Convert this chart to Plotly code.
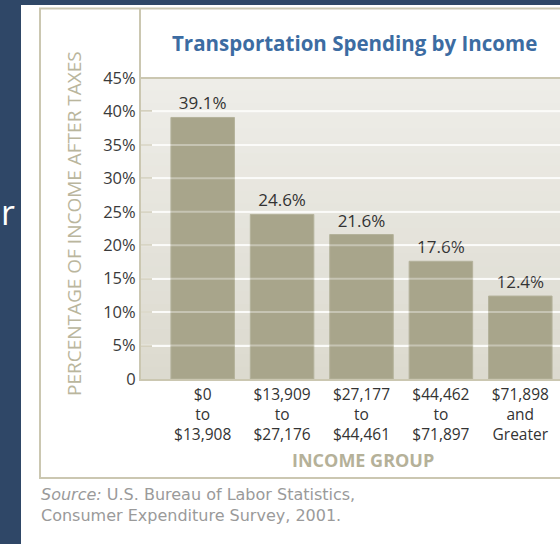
import plotly.graph_objects as go

# Data: share of after-tax income spent on transportation, by income group
income_groups = [
    "$0<br>to<br>$13,908",
    "$13,909<br>to<br>$27,176",
    "$27,177<br>to<br>$44,461",
    "$44,462<br>to<br>$71,897",
    "$71,898<br>and<br>Greater",
]
spending_pct = [39.1, 24.6, 21.6, 17.6, 12.4]
y_ticks = [0, 5, 10, 15, 20, 25, 30, 35, 40, 45]
y_tick_labels = ["0"] + [f"{v}%" for v in y_ticks[1:]]
source_lines = [
    "<i>Source:</i> U.S. Bureau of Labor Statistics,",
    "Consumer Expenditure Survey, 2001.",
]

W_PX, H_PX = 560, 544
L, R, T, B = 141, 560, 78, 379  # plot-area edges in pixels


def px(x):
    return (x - L) / (R - L)


def py(y):
    return (B - y) / (B - T)


FRAME = "#cbc7b1"
DARK = "#2f4767"

positions = list(range(len(income_groups)))

fig = go.Figure()
fig.add_trace(go.Bar(
    x=positions,
    y=spending_pct,
    width=0.8,
    marker=dict(color="#a8a58b", line=dict(color="#b4b29b", width=1)),
    text=[f"{v:.1f}%" for v in spending_pct],
    textposition="outside",
    textfont=dict(family="Open Sans", size=17, color="#333333"),
    cliponaxis=False,
    hoverinfo="skip",
))

shapes = []
# soft vertical gradient behind the bars
n_bands = 24
top_c = (238, 237, 232)
bot_c = (220, 218, 207)
for i in range(n_bands):
    f = i / (n_bands - 1)
    c = tuple(round(bot_c[k] + (top_c[k] - bot_c[k]) * f) for k in range(3))
    shapes.append(dict(type="rect", xref="paper", yref="paper",
                       x0=0, x1=1, y0=i / n_bands, y1=(i + 1) / n_bands + 0.002,
                       fillcolor=f"rgb{c}", line=dict(width=0), layer="below"))
# faint gridlines showing through the bars
for v in y_ticks[1:]:
    shapes.append(dict(type="line", xref="paper", yref="y", x0=0, x1=1, y0=v, y1=v,
                       line=dict(color="rgba(255,255,255,0.35)", width=2), layer="above"))
# dark slide surround
shapes.append(dict(type="rect", xref="paper", yref="paper", x0=px(-5), x1=px(21),
                   y0=py(560), y1=py(-5), fillcolor=DARK, line=dict(width=0)))
shapes.append(dict(type="rect", xref="paper", yref="paper", x0=px(-5), x1=px(570),
                   y0=py(5), y1=py(-5), fillcolor=DARK, line=dict(width=0)))
# chart frame
shapes.append(dict(type="rect", xref="paper", yref="paper", x0=px(40), x1=px(575),
                   y0=py(478), y1=py(8.5), line=dict(color=FRAME, width=2)))
shapes.append(dict(type="line", xref="paper", yref="paper", x0=px(140), x1=px(140),
                   y0=py(78), y1=py(8.5), line=dict(color=FRAME, width=2)))
shapes.append(dict(type="line", xref="paper", yref="paper", x0=px(140), x1=px(575),
                   y0=py(78), y1=py(78), line=dict(color=FRAME, width=2)))

annotations = [
    dict(text="<b>Transportation Spending by Income</b>", x=px(354), y=py(43),
         xref="paper", yref="paper", showarrow=False, xanchor="center", yanchor="middle",
         font=dict(family="Open Sans", size=20.5, color="#3c6ca2")),
    dict(text="PERCENTAGE OF INCOME AFTER TAXES", x=px(74), y=py(224), textangle=-90,
         xref="paper", yref="paper", showarrow=False, xanchor="center", yanchor="middle",
         font=dict(family="Open Sans", size=19, color="#bab69d")),
    dict(text="<b>INCOME GROUP</b>", x=px(363), y=py(460),
         xref="paper", yref="paper", showarrow=False, xanchor="center", yanchor="middle",
         font=dict(family="Open Sans", size=18, color="#b5b199")),
    dict(text="r", x=px(0), y=py(212),
         xref="paper", yref="paper", showarrow=False, xanchor="left", yanchor="middle",
         borderpad=0,
         font=dict(family="Open Sans", size=34, color="white")),
    dict(text="<br>".join(source_lines), x=px(39), y=py(505), align="left",
         xref="paper", yref="paper", showarrow=False, xanchor="left", yanchor="middle",
         font=dict(family="DejaVu Sans", size=16, color="#9a9a9a")),
]

x_range = [-0.5 - 22 / 79.5, 4.5]

fig.update_layout(
    width=W_PX, height=H_PX, autosize=False,
    margin=dict(l=L, r=W_PX - R, t=T, b=H_PX - B, pad=0),
    paper_bgcolor="white",
    plot_bgcolor="#e8e6df",
    showlegend=False,
    bargap=0.2,
    shapes=shapes,
    annotations=annotations,
    xaxis=dict(
        range=x_range, tickmode="array", tickvals=positions, ticktext=income_groups,
        ticks="", showgrid=False, zeroline=False,
        showline=True, linecolor=FRAME, linewidth=2,
        tickfont=dict(family="Open Sans", size=15.5, color="#333333"),
        fixedrange=True,
    ),
    xaxis2=dict(
        overlaying="x", anchor="y", side="bottom", range=x_range,
        tickmode="array", tickvals=[0.5, 1.5, 2.5, 3.5], showticklabels=False,
        ticks="inside", ticklen=10, tickwidth=2, tickcolor=FRAME,
        showgrid=False, zeroline=False, showline=False,
    ),
    yaxis=dict(
        range=[0, 45], tickmode="array", tickvals=y_ticks, ticktext=y_tick_labels,
        ticks="inside", ticklen=11, tickwidth=2, tickcolor=FRAME,
        showgrid=True, gridcolor="#f9f9f6", gridwidth=2, zeroline=False,
        showline=True, linecolor=FRAME, linewidth=2,
        tickfont=dict(family="Open Sans", size=16.5, color="#3a3a3a"),
        ticklabelstandoff=0,
        fixedrange=True,
    ),
)

fig.write_html("out.html")
